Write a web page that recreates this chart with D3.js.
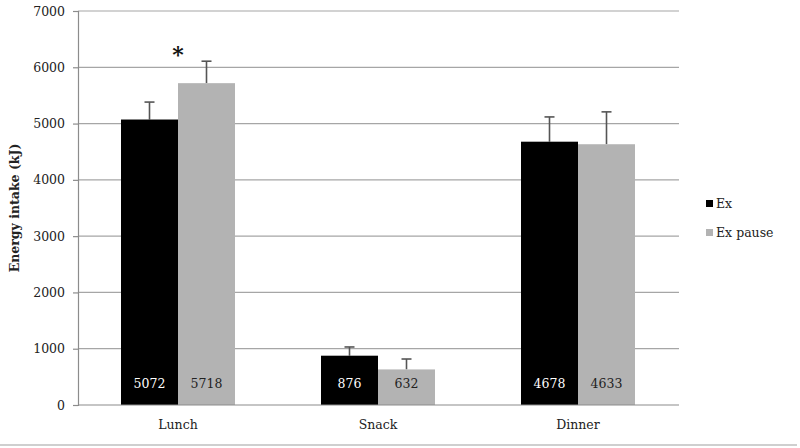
<!DOCTYPE html>
<html lang="en">
<head>
<meta charset="UTF-8">
<title>Energy intake</title>
<script src="https://d3js.org/d3.v7.min.js"></script>
<style>
    body { margin: 0; background: #fff; }
    svg { display: block; font-family: "DejaVu Serif", serif; }
</style>
</head>
<body>
<svg width="800" height="448"></svg>
<script>
    // data
    const meals = ["Lunch", "Snack", "Dinner"];
    const series = ["Ex", "Ex pause"];
    const exValues = [5072, 876, 4678];
    const pauseValues = [5718, 632, 4633];
    const exErr = [310, 155, 440];
    const pauseErr = [390, 185, 575];
    const yTicks = [0, 1000, 2000, 3000, 4000, 5000, 6000, 7000];
    const colors = ["#000000", "#b3b3b3"];

    const svg = d3.select("svg");
    const plotLeft = 78, plotRight = 678, plotTop = 11, plotBottom = 405;

    const x = d3.scaleBand().domain(meals).range([plotLeft, plotRight]);
    const inner = d3.scaleBand().domain(series).range([0, 114]);
    const y = d3.scaleLinear().domain([0, 7000]).range([plotBottom, plotTop]);

    // gridlines
    svg.append("g").selectAll("line").data(yTicks.slice(1)).join("line")
        .attr("x1", plotLeft).attr("x2", plotRight + 1)
        .attr("y1", d => y(d)).attr("y2", d => y(d))
        .attr("stroke", "#a6a6a6").attr("stroke-width", 1.2);

    // y axis
    const yAxis = svg.append("g").attr("transform", `translate(${plotLeft},0)`)
        .call(d3.axisLeft(y).tickValues(yTicks).tickSize(5).tickPadding(8).tickFormat(d3.format("d")));
    yAxis.select(".domain").attr("stroke", "#8c8c8c").attr("stroke-width", 1.2);
    yAxis.selectAll(".tick line").attr("stroke", "#8c8c8c").attr("stroke-width", 1.2);
    yAxis.selectAll("text").attr("font-size", 12.5).attr("fill", "#222")
        .attr("font-family", "DejaVu Serif, serif");

    svg.append("text")
        .attr("transform", `translate(19,${(plotTop + plotBottom) / 2}) rotate(-90)`)
        .attr("text-anchor", "middle")
        .attr("font-size", 12.5).attr("font-weight", "bold").attr("fill", "#222")
        .text("Energy intake (kJ)");

    const rows = meals.map((m, i) => [
        { meal: m, s: series[0], v: exValues[i], e: exErr[i], k: 0 },
        { meal: m, s: series[1], v: pauseValues[i], e: pauseErr[i], k: 1 }
    ]).flat();

    const bx = d => x(d.meal) + x.bandwidth() / 2 - 57 + inner(d.s);

    // error bars (drawn behind bars)
    const eb = svg.append("g").attr("stroke", "#555").attr("stroke-width", 1.6);
    rows.forEach(d => {
        const cx = bx(d) + inner.bandwidth() / 2;
        eb.append("line").attr("x1", cx).attr("x2", cx).attr("y1", y(d.v)).attr("y2", y(d.v + d.e));
        eb.append("line").attr("x1", cx - 5).attr("x2", cx + 5).attr("y1", y(d.v + d.e)).attr("y2", y(d.v + d.e));
    });

    svg.append("g").selectAll("rect").data(rows).join("rect")
        .attr("x", bx).attr("width", inner.bandwidth())
        .attr("y", d => y(d.v)).attr("height", d => y(0) - y(d.v))
        .attr("fill", d => colors[d.k]);

    // value labels inside bars
    svg.append("g").selectAll("text").data(rows).join("text")
        .attr("x", d => bx(d) + inner.bandwidth() / 2)
        .attr("y", 388)
        .attr("text-anchor", "middle")
        .attr("font-size", 12.5)
        .attr("fill", d => d.k === 0 ? "#fff" : "#222")
        .text(d => d.v);

    // baseline
    svg.append("line").attr("x1", plotLeft).attr("x2", plotRight + 1)
        .attr("y1", plotBottom).attr("y2", plotBottom)
        .attr("stroke", "#8c8c8c").attr("stroke-width", 1.2);

    // category labels
    svg.append("g").selectAll("text").data(meals).join("text")
        .attr("x", d => x(d) + x.bandwidth() / 2)
        .attr("y", 429)
        .attr("text-anchor", "middle")
        .attr("font-size", 12.5).attr("fill", "#222")
        .text(d => d);

    // significance marker
    svg.append("text")
        .attr("x", x("Lunch") + x.bandwidth() / 2).attr("y", 62)
        .attr("text-anchor", "middle")
        .attr("font-size", 22).attr("font-weight", "bold").attr("fill", "#111")
        .text("*");

    // legend
    const lg = svg.append("g").attr("transform", "translate(706,200)");
    series.forEach((s, i) => {
        const g = lg.append("g").attr("transform", `translate(0,${i * 29})`);
        g.append("rect").attr("width", 7).attr("height", 7).attr("fill", colors[i]);
        g.append("text").attr("x", 10).attr("y", 8)
            .attr("font-size", 12.5).attr("fill", "#222").text(s);
    });

    // frame bottom line
    svg.append("line").attr("x1", 0).attr("x2", 797).attr("y1", 445).attr("y2", 445)
        .attr("stroke", "#cfcfcf").attr("stroke-width", 2);
</script>
</body>
</html>
